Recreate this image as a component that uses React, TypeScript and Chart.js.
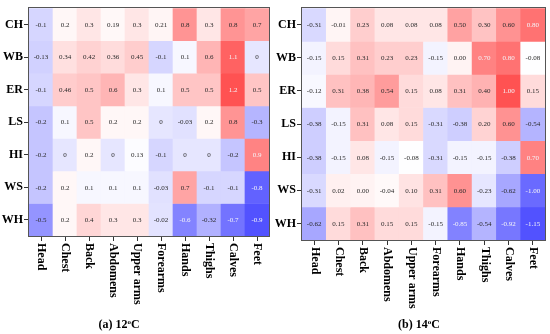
import React, { useEffect, useRef } from "react";
import { Chart, registerables } from "chart.js";

Chart.register(...registerables);

const rows = ["CH", "WB", "ER", "LS", "HI", "WS", "WH"];
const cols = ["Head", "Chest", "Back", "Abdomens", "Upper arms", "Forearms", "Hands", "Thighs", "Calves", "Feet"];

const values12 = [
  [-0.1, 0.2, 0.3, 0.19, 0.3, 0.21, 0.8, 0.3, 0.8, 0.7],
  [-0.13, 0.34, 0.42, 0.36, 0.45, -0.1, 0.1, 0.6, 1.1, 0],
  [-0.1, 0.46, 0.5, 0.6, 0.3, 0.1, 0.5, 0.5, 1.2, 0.5],
  [-0.2, 0.1, 0.5, 0.2, 0.2, 0, -0.03, 0.2, 0.8, -0.3],
  [-0.2, 0, 0.2, 0, 0.13, -0.1, 0, 0, -0.2, 0.9],
  [-0.2, 0.2, 0.1, 0.1, 0.1, -0.03, 0.7, -0.1, -0.1, -0.8],
  [-0.5, 0.2, 0.4, 0.3, 0.3, -0.02, -0.6, -0.32, -0.7, -0.9],
];

const values14 = [
  [-0.31, -0.01, 0.23, 0.08, 0.08, 0.08, 0.5, 0.3, 0.6, 0.8],
  [-0.15, 0.15, 0.31, 0.23, 0.23, -0.15, 0.0, 0.7, 0.8, -0.08],
  [-0.12, 0.31, 0.38, 0.54, 0.15, 0.08, 0.31, 0.4, 1.0, 0.15],
  [-0.38, -0.15, 0.31, 0.08, 0.15, -0.31, -0.38, 0.2, 0.6, -0.54],
  [-0.38, -0.15, 0.08, -0.15, -0.08, -0.31, -0.15, -0.15, -0.38, 0.7],
  [-0.31, 0.02, 0.0, -0.04, 0.1, 0.31, 0.6, -0.23, -0.62, -1.0],
  [-0.62, 0.15, 0.31, 0.15, 0.15, -0.15, -0.85, -0.54, -0.92, -1.15],
];

const captions = [
  { prefix: "(a) 12", suffix: "C" },
  { prefix: "(b) 14", suffix: "C" },
];

const FONT = "'Liberation Serif', 'Times New Roman', serif";

function flat(vals: number[][]) {
  let mn = Infinity, mx = -Infinity;
  vals.forEach((r) => r.forEach((v) => { mn = Math.min(mn, v); mx = Math.max(mx, v); }));
  return [mn, mx];
}

function norm(v: number, vmin: number, vmax: number) {
  const mid = (vmin + vmax) / 2;
  return (v - mid) / ((vmax - vmin) / 2);
}

function colorFor(v: number, vmin: number, vmax: number) {
  const t = Math.max(-1, Math.min(1, norm(v, vmin, vmax)));
  const c = Math.round(255 * (1 - 0.68 * Math.abs(t)));
  return t >= 0 ? `rgb(255,${c},${c})` : `rgb(${c},${c},255)`;
}

type PanelProps = {
  values: number[][];
  fmt: (v: number) => string;
  caption: { prefix: string; suffix: string };
  captionX: number;
  padTop: number;
  padRight: number;
  yWidth: number;
  bottom: number;
};

function Panel(p: PanelProps) {
  const ref = useRef<HTMLCanvasElement>(null);
  useEffect(() => {
    if (!ref.current) return;
    const [vmin, vmax] = flat(p.values);
    const datasets = rows.map((r, i) => ({
      label: r,
      data: cols.map(() => [i - 0.5, i + 0.5]),
      backgroundColor: p.values[i].map((v) => colorFor(v, vmin, vmax)),
      borderWidth: 0,
      barPercentage: 1,
      categoryPercentage: 1,
      grouped: false,
    }));
    const deco = {
      id: "deco",
      afterDatasetsDraw(chart: any) {
        const ctx = chart.ctx;
        const xs = chart.scales.x;
        const ys = chart.scales.y;
        ctx.save();
        ctx.font = `7px ${FONT}`;
        ctx.textAlign = "center";
        ctx.textBaseline = "middle";
        p.values.forEach((row, i) => {
          row.forEach((v, j) => {
            const t = Math.abs(norm(v, vmin, vmax));
            ctx.fillStyle = t > 0.67 ? "#f4f4f8" : "#2a2a2a";
            ctx.fillText(p.fmt(v), xs.getPixelForValue(j), ys.getPixelForValue(i) + 0.5);
          });
        });
        ctx.restore();
      },
      afterDraw(chart: any) {
        const ctx = chart.ctx;
        const a = chart.chartArea;
        const xs = chart.scales.x;
        ctx.save();
        ctx.strokeStyle = "#555";
        ctx.lineWidth = 1;
        ctx.strokeRect(Math.round(a.left) - 0.5, Math.round(a.top) - 0.5, Math.round(a.right - a.left) + 1, Math.round(a.bottom - a.top) + 1);
        ctx.fillStyle = "#000";
        ctx.font = `bold 12px ${FONT}`;
        ctx.textAlign = "left";
        ctx.textBaseline = "middle";
        cols.forEach((c, j) => {
          ctx.save();
          ctx.translate(xs.getPixelForValue(j) + 0.5, a.bottom + 7);
          ctx.rotate(Math.PI / 2);
          ctx.fillText(c, 0, 0);
          ctx.restore();
        });
        // caption
        ctx.textBaseline = "alphabetic";
        ctx.font = `bold 12px ${FONT}`;
        const w1 = ctx.measureText(p.caption.prefix).width;
        const w3 = ctx.measureText(p.caption.suffix).width;
        ctx.font = `bold 7px ${FONT}`;
        const w2 = ctx.measureText("o").width;
        const x0 = p.captionX - (w1 + w2 + w3) / 2;
        const by = 328;
        ctx.font = `bold 12px ${FONT}`;
        ctx.fillText(p.caption.prefix, x0, by);
        ctx.font = `bold 7px ${FONT}`;
        ctx.fillText("o", x0 + w1, by - 4);
        ctx.font = `bold 12px ${FONT}`;
        ctx.fillText(p.caption.suffix, x0 + w1 + w2, by);
        ctx.restore();
      },
    };
    const chart = new Chart(ref.current, {
      type: "bar",
      data: { labels: cols, datasets: datasets as any },
      options: {
        animation: false,
        responsive: false,
        layout: { padding: { left: 0, top: p.padTop, right: p.padRight, bottom: 0 } },
        plugins: { legend: { display: false }, tooltip: { enabled: false } },
        scales: {
          x: {
            type: "category",
            offset: true,
            grid: { display: true, drawOnChartArea: false, drawTicks: true, tickLength: 5, offset: false, color: "#333" },
            border: { display: false },
            ticks: { display: false },
            afterFit: (s: any) => { s.height = 334 - p.bottom; },
          },
          y: {
            type: "linear",
            min: -0.5,
            max: 6.5,
            reverse: true,
            afterBuildTicks: (s: any) => { s.ticks = rows.map((_, i) => ({ value: i })); },
            ticks: {
              callback: (v: any) => rows[Math.round(Number(v))],
              font: { family: FONT, size: 12, weight: "bold" },
              color: "#000",
              padding: 1,
            },
            grid: { display: true, drawOnChartArea: false, drawTicks: true, tickLength: 5, color: "#333" },
            border: { display: false },
            afterFit: (s: any) => { s.width = p.yWidth; },
          },
        },
      } as any,
      plugins: [deco],
    });
    return () => chart.destroy();
  }, []);
  return <canvas ref={ref} width={275} height={334} style={{ display: "block" }} />;
}

export default function App() {
  return (
    <div style={{ position: "fixed", left: 0, top: 0, width: 550, height: 334, background: "#fff", display: "flex" }}>
      <Panel values={values12} fmt={(v) => String(v)} caption={captions[0]} captionX={119} padTop={4} padRight={6} yWidth={29} bottom={236} />
      <Panel values={values14} fmt={(v) => v.toFixed(2)} caption={captions[1]} captionX={144} padTop={5} padRight={5} yWidth={27} bottom={240} />
    </div>
  );
}
